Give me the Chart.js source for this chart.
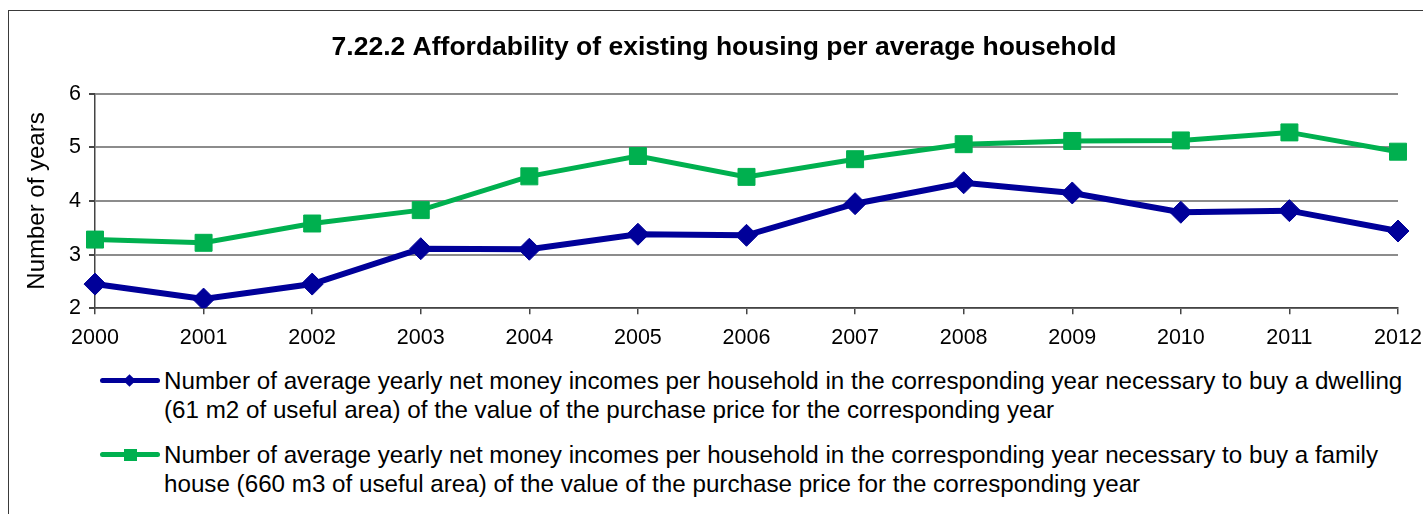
<!DOCTYPE html>
<html>
<head>
<meta charset="utf-8">
<script src="https://cdn.jsdelivr.net/npm/chart.js@4"></script>
<style>
    body { margin: 0; background: #fff; font-family: "Liberation Sans", Arial, sans-serif; }
    #wrap { position: relative; width: 1423px; height: 514px; overflow: hidden; }
    #frame { position: absolute; left: 8px; top: 10px; width: 1500px; height: 600px; border: 1.5px solid #3a3a3a; }
    #chartBox { position: absolute; left: 0; top: 0; width: 1423px; height: 363px; }
    #legend { position: absolute; left: 100px; top: 366px; }
    .item { display: flex; align-items: flex-start; margin-bottom: 16px; }
    .sample { position: relative; width: 64px; height: 29px; flex: none; }
    .sample .ln { position: absolute; left: 0; right: 4px; top: 12px; height: 5px; border-radius: 3px; }
    .sample .mk { position: absolute; }
    .txt { font-size: 24.2px; line-height: 29px; color: #000; white-space: nowrap; }
</style>
</head>
<body>
<div id="wrap">
    <div id="frame"></div>
    <div id="chartBox"><canvas id="affordChart"></canvas></div>
    <div id="legend"></div>
</div>
<script>
// Data
const years = ['2000', '2001', '2002', '2003', '2004', '2005', '2006', '2007', '2008', '2009', '2010', '2011', '2012'];
const dwellingYears = [2.45, 2.17, 2.45, 3.11, 3.10, 3.38, 3.36, 3.95, 4.34, 4.15, 3.79, 3.82, 3.44];
const houseYears = [3.28, 3.22, 3.58, 3.83, 4.46, 4.84, 4.45, 4.78, 5.06, 5.12, 5.13, 5.28, 4.92];
const dwellingLabel = ['Number of average yearly net money incomes per household in the corresponding year necessary to buy a dwelling',
    '(61 m2 of useful area) of the value of the purchase price for the corresponding year'];
const houseLabel = ['Number of average yearly net money incomes per household in the corresponding year necessary to buy a family',
    'house (660 m3 of useful area) of the value of the purchase price for the corresponding year'];
const yTicks = [2, 3, 4, 5, 6];

const blue = '#000099';
const green = '#00b04f';

function createAffordChart() {
    const ctx = document.getElementById('affordChart').getContext('2d');
    Chart.defaults.font.family = '"Liberation Sans", Arial, sans-serif';
    Chart.defaults.color = '#000';

    return new Chart(ctx, {
        type: 'line',
        data: {
            labels: years,
            datasets: [{
                label: dwellingLabel.join(' '),
                data: dwellingYears,
                borderColor: blue,
                backgroundColor: blue,
                borderWidth: 6,
                pointStyle: 'rectRot',
                pointRadius: 11,
                pointBorderWidth: 1,
                tension: 0,
            }, {
                label: houseLabel.join(' '),
                data: houseYears,
                borderColor: green,
                backgroundColor: green,
                borderWidth: 5,
                pointStyle: 'rect',
                pointRadius: 12,
                pointBorderWidth: 1,
                tension: 0,
            }]
        },
        options: {
            responsive: true,
            maintainAspectRatio: false,
            animation: false,
            layout: { padding: { left: 25, right: 0, top: 0, bottom: 1 } },
            plugins: {
                legend: { display: false },
                tooltip: { enabled: false },
                title: {
                    display: true,
                    text: '7.22.2 Affordability of existing housing per average household',
                    font: { size: 26.5, weight: 'bold' },
                    color: '#000',
                    padding: { top: 32, bottom: 30 },
                },
            },
            scales: {
                x: {
                    offset: false,
                    afterFit: axis => { axis.paddingRight = 25; },
                    grid: { drawOnChartArea: false, drawTicks: true, tickLength: 6, color: '#444', lineWidth: 1.5 },
                    border: { color: '#444', width: 1.5 },
                    ticks: { font: { size: 21.5 }, color: '#000', padding: 11, maxRotation: 0 },
                },
                y: {
                    min: 2,
                    max: 6,
                    afterBuildTicks: axis => { axis.ticks = yTicks.map(v => ({ value: v })); },
                    afterFit: axis => { axis.width = 70; },
                    grid: { color: '#8c8c8c', lineWidth: 2, tickLength: 6, tickColor: '#444' },
                    border: { color: '#444', width: 1.5 },
                    ticks: { font: { size: 21.5 }, color: '#000', padding: 8 },
                    title: { display: true, text: 'Number of years', font: { size: 24, lineHeight: 1 }, color: '#000', padding: { top: 0, bottom: 0 } },
                },
            },
        }
    });
}

// Legend drawn as html so the long labels can sit on two lines
function buildLegend(chart) {
    const box = document.getElementById('legend');
    const lines = [dwellingLabel, houseLabel];
    chart.data.datasets.forEach((ds, i) => {
        const item = document.createElement('div');
        item.className = 'item';
        const sample = document.createElement('div');
        sample.className = 'sample';
        const ln = document.createElement('div');
        ln.className = 'ln';
        ln.style.background = ds.borderColor;
        const mk = document.createElement('div');
        mk.className = 'mk';
        mk.style.background = ds.borderColor;
        if (ds.pointStyle === 'rectRot') {
            mk.style.width = '9px'; mk.style.height = '9px';
            mk.style.left = '25px'; mk.style.top = '10px';
            mk.style.transform = 'rotate(45deg)';
        } else {
            mk.style.width = '13px'; mk.style.height = '12px';
            mk.style.left = '24px'; mk.style.top = '9px';
        }
        sample.appendChild(ln);
        sample.appendChild(mk);
        const txt = document.createElement('div');
        txt.className = 'txt';
        txt.innerHTML = lines[i].join('<br>');
        item.appendChild(sample);
        item.appendChild(txt);
        box.appendChild(item);
    });
}

window.onload = function() {
    const chart = createAffordChart();
    buildLegend(chart);
};
</script>
</body>
</html>
